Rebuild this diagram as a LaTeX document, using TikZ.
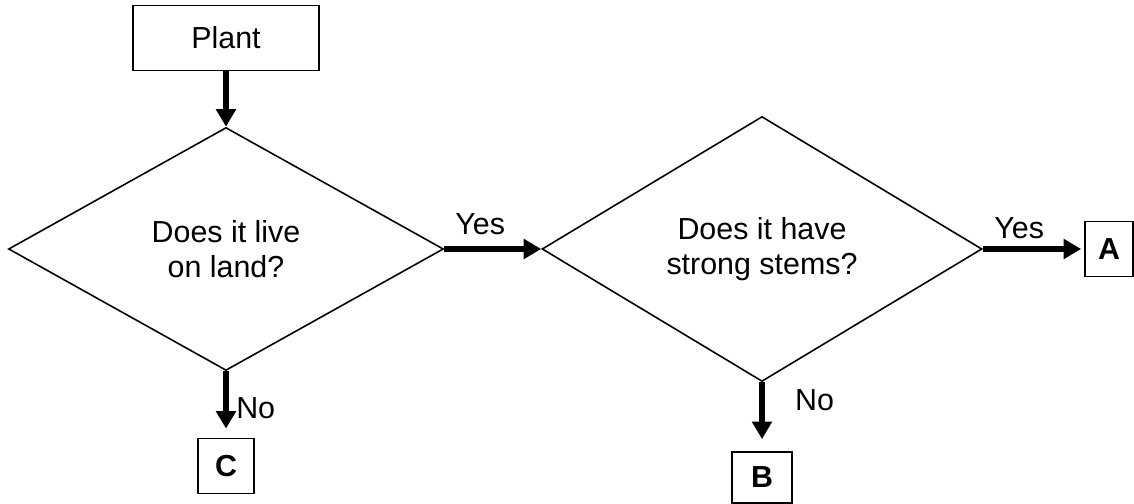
\documentclass[tikz,border=0pt]{standalone}
\usepackage{fontspec}
\setmainfont{Liberation Sans}
\usetikzlibrary{shapes.geometric,arrows.meta}

\begin{document}
\begin{tikzpicture}[
    every node/.style={font=\fontsize{17.3}{20}\selectfont},
    decision/.style={diamond, draw, line width=0.9pt, inner sep=0pt, align=center},
    box/.style={rectangle, draw, line width=1pt, inner sep=0pt},
    flow/.style={line width=3pt, -{Triangle[length=10pt,width=11pt]}},
  ]
    \useasboundingbox (0,0) rectangle (22.68,10.08);
    \node[box, minimum width=3.72cm, minimum height=1.30cm] (plant) at (4.52,9.32) {Plant};
    \node[decision, minimum width=8.70cm, minimum height=4.86cm] (land) at (4.52,5.10) {Does it live\\on land?};
    \node[decision, minimum width=8.80cm, minimum height=5.30cm] (stems) at (15.24,5.10) {Does it have\\strong stems?};
    \node[box, minimum width=0.96cm, minimum height=1.10cm] (a) at (22.18,5.10) {\textbf{A}};
    \node[box, minimum width=1.12cm, minimum height=1.10cm] (c) at (4.52,0.76) {\textbf{C}};
    \node[box, minimum width=1.20cm, minimum height=1.02cm] (b) at (15.24,0.53) {\textbf{B}};
    % arrows
    \draw[flow] (plant.south) -- (land.north);
    \draw[flow] (land.east) -- node[above=3pt, pos=0.37] (yes1) {Yes} (stems.west);
    \draw[flow, shorten >=0.06cm] (stems.east) -- node[above=1pt, pos=0.36] (yes2) {Yes} (a.west);
    \draw[flow, shorten >=0.18cm] (land.south) -- node[right=1pt, pos=0.55] (no1) {No} (c.north);
    \draw[flow, shorten >=0.24cm] (stems.south) -- node[right=14pt, pos=0.26] (no2) {No} (b.north);
\end{tikzpicture}
\end{document}
